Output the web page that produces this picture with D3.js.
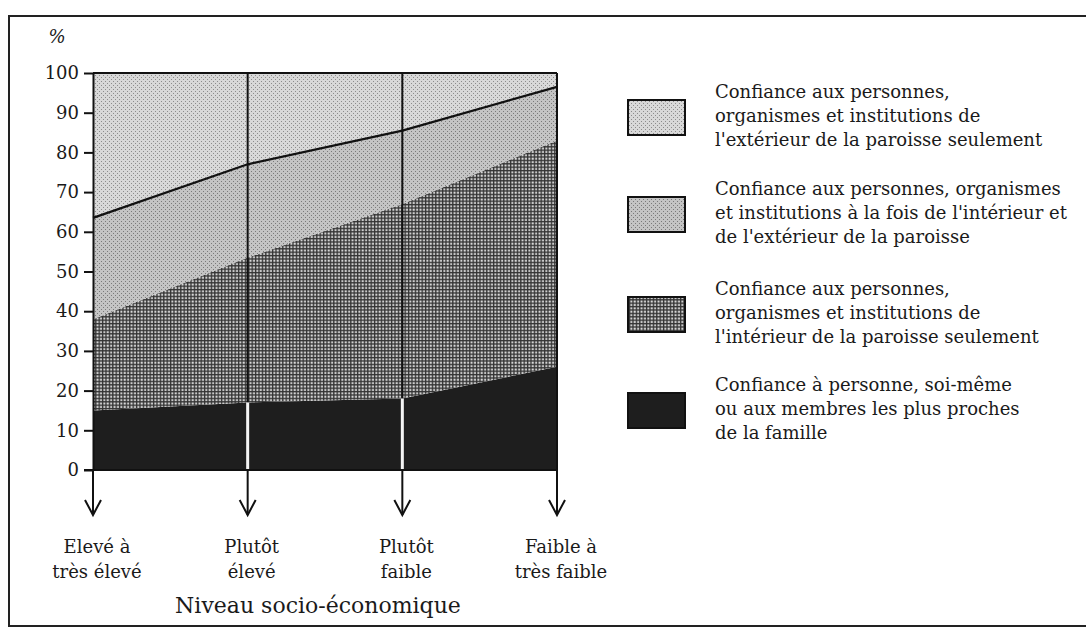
<!DOCTYPE html>
<html lang="fr">
<head>
    <meta charset="UTF-8">
    <title>Confiance selon le niveau socio-économique</title>
    <script src="https://d3js.org/d3.v7.min.js"></script>
    <style>
        * { margin: 0; padding: 0; box-sizing: border-box; }
        body { background: #ffffff; }
        svg text {
            font-family: 'DejaVu Serif', serif;
            fill: #1a1a1a;
        }
    </style>
</head>
<body>
    <div id="chart"></div>

    <script>
        // Chart data (%)
        const categories = ["Elevé à|très élevé", "Plutôt|élevé", "Plutôt|faible", "Faible à|très faible"];
        const personne   = [15, 17, 18, 26];       // confiance à personne / famille proche
        const interieur  = [23, 36.5, 49, 57];      // intérieur de la paroisse seulement
        const lesDeux    = [25.5, 23.5, 18.5, 13.5];// à la fois intérieur et extérieur
        const exterieur  = [36.5, 23, 14.5, 3.5];   // extérieur de la paroisse seulement
        const yTicks = [0, 10, 20, 30, 40, 50, 60, 70, 80, 90, 100];
        const legendLabels = [
            ["Confiance aux personnes,", "organismes et institutions de", "l'extérieur de la paroisse seulement"],
            ["Confiance aux personnes, organismes", "et institutions  à la fois de l'intérieur et", "de l'extérieur de la paroisse"],
            ["Confiance aux personnes,", "organismes et institutions de", "l'intérieur de la paroisse seulement"],
            ["Confiance à personne, soi-même", "ou aux membres les plus proches", "de la famille"]
        ];

        const keys = ["personne", "interieur", "lesDeux", "exterieur"];
        const table = categories.map((c, i) => ({
            cat: c,
            personne: personne[i],
            interieur: interieur[i],
            lesDeux: lesDeux[i],
            exterieur: exterieur[i]
        }));

        const W = 1086, H = 640;
        const svg = d3.select("#chart").append("svg")
            .attr("width", W)
            .attr("height", H);

        // patterns imitating the printed screens
        const defs = svg.append("defs");
        function dotPattern(id, bg, dot) {
            const p = defs.append("pattern").attr("id", id)
                .attr("width", 4).attr("height", 4)
                .attr("patternUnits", "userSpaceOnUse");
            p.append("rect").attr("width", 4).attr("height", 4).attr("fill", bg);
            p.append("rect").attr("x", 1).attr("y", 1).attr("width", 1).attr("height", 1).attr("fill", dot);
            p.append("rect").attr("x", 3).attr("y", 3).attr("width", 1).attr("height", 1).attr("fill", dot);
        }
        dotPattern("pat-ext", "#d8d8d8", "#8c8c8c");
        dotPattern("pat-deux", "#c4c4c4", "#7a7a7a");

        const chk = defs.append("pattern").attr("id", "pat-int")
            .attr("width", 3.4).attr("height", 3.4)
            .attr("patternUnits", "userSpaceOnUse");
        chk.append("rect").attr("width", 3.4).attr("height", 3.4).attr("fill", "#333");
        chk.append("rect").attr("x", 1.3).attr("y", 1.3).attr("width", 2.0).attr("height", 2.0).attr("fill", "#dedede");

        const fills = {
            personne: "#1e1e1e",
            interieur: "url(#pat-int)",
            lesDeux: "url(#pat-deux)",
            exterieur: "url(#pat-ext)"
        };

        // outer frame
        svg.append("rect")
            .attr("x", 9).attr("y", 16)
            .attr("width", 1100).attr("height", 610)
            .attr("fill", "none")
            .attr("stroke", "#222")
            .attr("stroke-width", 2);

        const x = d3.scalePoint().domain(categories).range([93, 557]);
        const y = d3.scaleLinear().domain([0, 100]).range([470, 73]);

        const stack = d3.stack().keys(keys);
        const series = stack(table);

        const area = d3.area()
            .x(d => x(d.data.cat))
            .y0(d => y(d[0]))
            .y1(d => y(d[1]));

        svg.append("g").selectAll("path")
            .data(series)
            .join("path")
            .attr("d", area)
            .attr("fill", d => fills[d.key]);

        // black line between the two upper layers
        const topLine = d3.line()
            .x(d => x(d.data.cat))
            .y(d => y(d[1]));
        svg.append("path")
            .datum(series[2])
            .attr("d", topLine)
            .attr("fill", "none")
            .attr("stroke", "#111")
            .attr("stroke-width", 2.2);

        // vertical separators: black above, white through the dark band
        categories.forEach((c, i) => {
            if (i > 0 && i < categories.length - 1) {
                svg.append("line")
                    .attr("x1", x(c)).attr("x2", x(c))
                    .attr("y1", y(100)).attr("y2", y(personne[i]))
                    .attr("stroke", "#111").attr("stroke-width", 2);
                svg.append("line")
                    .attr("x1", x(c)).attr("x2", x(c))
                    .attr("y1", y(personne[i])).attr("y2", y(0))
                    .attr("stroke", "#f4f4f4").attr("stroke-width", 3);
            }
            // arrow below the axis
            const ax = x(c), tip = 515;
            svg.append("line")
                .attr("x1", ax).attr("x2", ax)
                .attr("y1", y(0)).attr("y2", tip)
                .attr("stroke", "#111").attr("stroke-width", 2);
            svg.append("path")
                .attr("d", `M${ax - 8},${tip - 15}L${ax},${tip}L${ax + 8},${tip - 15}`)
                .attr("fill", "none")
                .attr("stroke", "#111")
                .attr("stroke-width", 2);
        });

        // plot border: top and right
        svg.append("line")
            .attr("x1", x.range()[0]).attr("x2", x.range()[1])
            .attr("y1", y(100)).attr("y2", y(100))
            .attr("stroke", "#111").attr("stroke-width", 2);
        svg.append("line")
            .attr("x1", x.range()[1]).attr("x2", x.range()[1])
            .attr("y1", y(100)).attr("y2", y(0))
            .attr("stroke", "#111").attr("stroke-width", 2);

        // x baseline
        svg.append("line")
            .attr("x1", 84).attr("x2", x.range()[1])
            .attr("y1", y(0)).attr("y2", y(0))
            .attr("stroke", "#111").attr("stroke-width", 2);

        // y axis
        const yAxis = svg.append("g")
            .attr("transform", `translate(${x.range()[0]},0)`)
            .call(d3.axisLeft(y).tickValues(yTicks).tickSize(9).tickPadding(5).tickSizeOuter(0));
        yAxis.select(".domain").attr("stroke", "#111").attr("stroke-width", 2);
        yAxis.selectAll(".tick line").attr("stroke", "#111").attr("stroke-width", 2);
        yAxis.selectAll(".tick text")
            .attr("fill", "#1a1a1a")
            .style("font-size", "18px")
            .style("font-family", "'DejaVu Serif', serif");

        svg.append("text")
            .attr("x", 57).attr("y", 43)
            .attr("text-anchor", "middle")
            .style("font-size", "18px")
            .style("font-style", "italic")
            .text("%");

        // category labels
        categories.forEach(c => {
            const parts = c.split("|");
            const t = svg.append("text")
                .attr("x", x(c) + 4)
                .attr("y", 553)
                .attr("text-anchor", "middle")
                .style("font-size", "18px");
            parts.forEach((p, j) => {
                t.append("tspan").attr("x", x(c) + 4).attr("dy", j === 0 ? 0 : 25).text(p);
            });
        });

        svg.append("text")
            .attr("x", 318).attr("y", 613)
            .attr("text-anchor", "middle")
            .style("font-size", "22px")
            .text("Niveau socio-économique");

        // legend
        const legendTop = [100, 197, 297, 393];
        const legendFills = ["exterieur", "lesDeux", "interieur", "personne"];
        legendLabels.forEach((lines, i) => {
            const g = svg.append("g");
            g.append("rect")
                .attr("x", 628).attr("y", legendTop[i])
                .attr("width", 57).attr("height", 35)
                .attr("fill", fills[legendFills[i]])
                .attr("stroke", "#111")
                .attr("stroke-width", 2);
            const t = g.append("text")
                .attr("x", 715)
                .attr("y", legendTop[i] - 2)
                .style("font-size", "18px");
            lines.forEach((l, j) => {
                t.append("tspan").attr("x", 715).attr("dy", j === 0 ? 0 : 24).text(l);
            });
        });
    </script>
</body>
</html>
